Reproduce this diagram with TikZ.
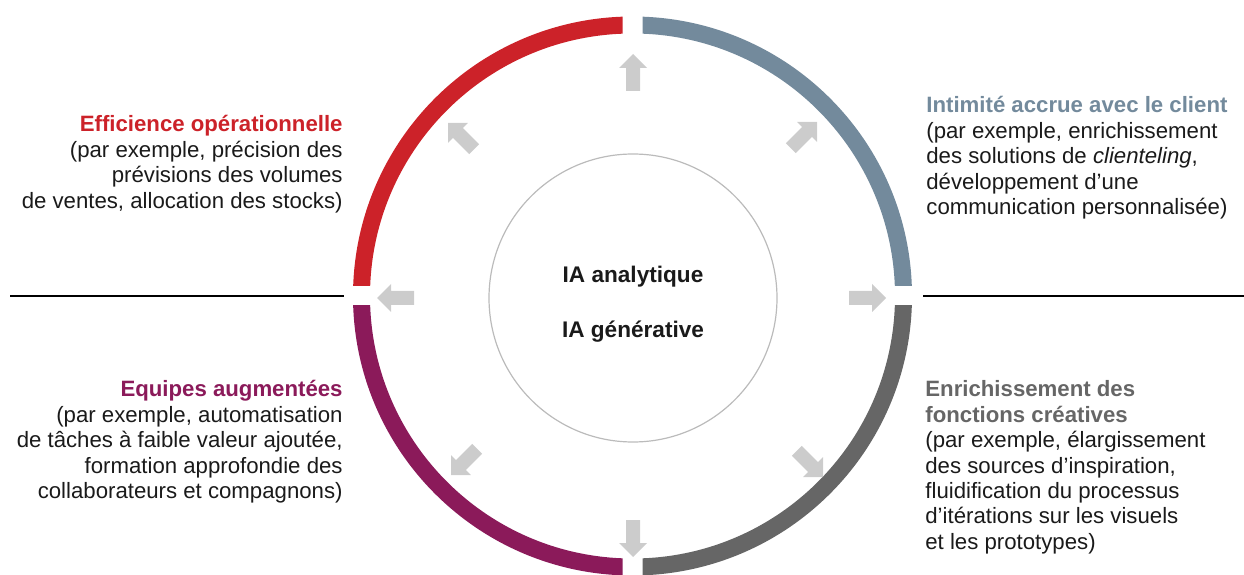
\documentclass[tikz,border=0pt]{standalone}
\usepackage{fontspec}
\setmainfont{Liberation Sans}
\usetikzlibrary{calc}
\definecolor{ringred}{HTML}{CC2229}
\definecolor{ringblue}{HTML}{738A9C}
\definecolor{ringpurple}{HTML}{8B1A5A}
\definecolor{ringgrey}{HTML}{666666}
\definecolor{arrowgrey}{HTML}{CCCCCC}
\definecolor{innergrey}{HTML}{BBBBBB}
\definecolor{bodytext}{HTML}{1A1A1A}
\tikzset{
  ringarc/.style={line width=8.5pt},
  blockarrow/.pic={\fill[arrowgrey] (0,0) -- (-14,14) -- (-14,7) -- (-37,7) -- (-37,-7) -- (-14,-7) -- (-14,-14) -- cycle;},
  txt/.style={inner sep=0pt, text=bodytext, font=\fontsize{11.1}{12.7}\selectfont},
  divider/.style={line width=1pt, black},
}
\begin{document}
\begin{tikzpicture}[x=0.5pt,y=0.5pt]
\useasboundingbox (0,0) rectangle (1244,574);
\coordinate (c) at (632.5,278);
% ring quadrants
\begin{scope}
  \clip ($(c)+(-300,10)$) rectangle ($(c)+(-10,300)$);
  \draw[ringarc, ringred] (c) circle[radius=271];
\end{scope}
\begin{scope}
  \clip ($(c)+(10,10)$) rectangle ($(c)+(300,300)$);
  \draw[ringarc, ringblue] (c) circle[radius=271];
\end{scope}
\begin{scope}
  \clip ($(c)+(-300,-10)$) rectangle ($(c)+(-10,-300)$);
  \draw[ringarc, ringpurple] (c) circle[radius=271];
\end{scope}
\begin{scope}
  \clip ($(c)+(10,-10)$) rectangle ($(c)+(300,-300)$);
  \draw[ringarc, ringgrey] (c) circle[radius=271];
\end{scope}
% inner circle
\node[circle, draw=innergrey, line width=0.6pt, minimum size=144pt, inner sep=0pt] (core) at (633,276) {};
\node[txt, font=\fontsize{11.3}{13}\selectfont\bfseries, anchor=base] (ana) at (633,291) {IA analytique};
\node[txt, font=\fontsize{11.3}{13}\selectfont\bfseries, anchor=base] (gen) at (633,236) {IA générative};
% dividers
\coordinate (l1) at (10,278);
\coordinate (l2) at (344,278);
\coordinate (r1) at (923,278);
\coordinate (r2) at (1244,278);
\draw[divider] (l1) -- (l2);
\draw[divider] (r1) -- (r2);
% arrows
\pic[rotate=90] at (633,520) {blockarrow};
\pic[rotate=0] at (886,276) {blockarrow};
\pic[rotate=180] at (377,276) {blockarrow};
\pic[rotate=270] at (633,17) {blockarrow};
\pic[rotate=135] at (448,451) {blockarrow};
\pic[rotate=45] at (817,452) {blockarrow};
\pic[rotate=225] at (451,99) {blockarrow};
\pic[rotate=315] at (823,97) {blockarrow};
% text blocks
\node[txt, anchor=base east] (tl) at (343,442) {\begin{tabular}[t]{@{}r@{}}
\textcolor{ringred}{\bfseries Efficience opérationnelle}\\
(par exemple, précision des\\
prévisions des volumes\\
de ventes, allocation des stocks)
\end{tabular}};
\node[txt, anchor=base west] (tr) at (926,461) {\begin{tabular}[t]{@{}l@{}}
\textcolor{ringblue}{\bfseries Intimité accrue avec le client}\\
(par exemple, enrichissement\\
des solutions de \textit{clienteling},\\
développement d’une\\
communication personnalisée)
\end{tabular}};
\node[txt, anchor=base west] (br) at (925,177) {\begin{tabular}[t]{@{}l@{}}
\textcolor{ringgrey}{\bfseries Enrichissement des}\\
\textcolor{ringgrey}{\bfseries fonctions créatives}\\
(par exemple, élargissement\\
des sources d’inspiration,\\
fluidification du processus\\
d’itérations sur les visuels\\
et les prototypes)
\end{tabular}};
\node[txt, anchor=base east] (bl) at (343,177) {\begin{tabular}[t]{@{}r@{}}
\textcolor{ringpurple}{\bfseries Equipes augmentées}\\
(par exemple, automatisation\\
de tâches à faible valeur ajoutée,\\
formation approfondie des\\
collaborateurs et compagnons)
\end{tabular}};
\end{tikzpicture}
\end{document}
